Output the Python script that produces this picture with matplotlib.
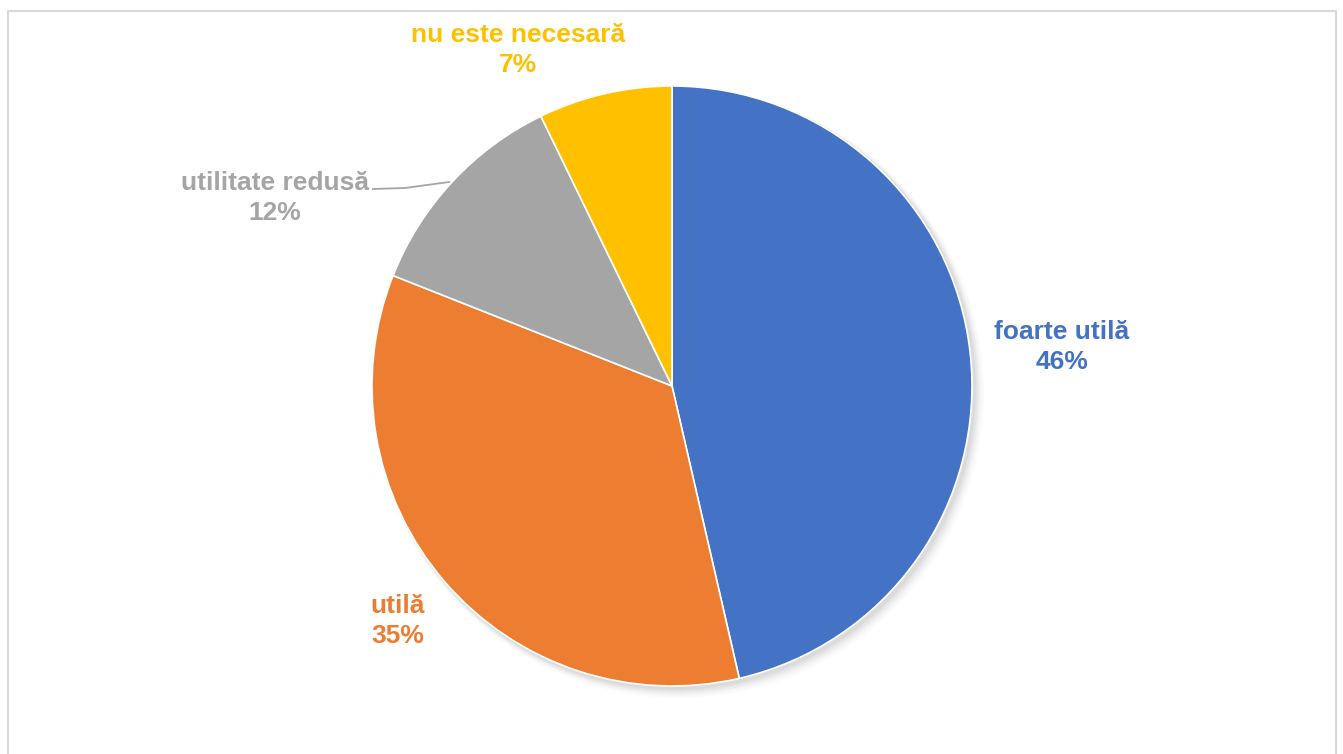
import matplotlib.pyplot as plt
from matplotlib.patches import Circle

plt.rcParams['font.family'] = ['Liberation Sans', 'DejaVu Sans']

categories = ['foarte utilă', 'utilă', 'utilitate redusă', 'nu este necesară']
values = [46.4, 34.6, 11.8, 7.2]
colors = ['#4472C4', '#ED7D31', '#A5A5A5', '#FFC000']

W, H = 1343, 754
cx, cy, r = 672, H - 386, 300

fig = plt.figure(figsize=(W / 100, H / 100), dpi=100)
ax = fig.add_axes([0, 0, 1, 1])

# outer frame
ax.plot([8, 8, 1336, 1336], [-5, H - 11, H - 11, -5], color='#d9d9d9', lw=1.5)

# soft shadow
for i, a in enumerate([0.04, 0.035, 0.03, 0.02, 0.015]):
    ax.add_patch(Circle((cx + 3 + i, cy - 3 - i), r + 1 + i, color='black', alpha=a, lw=0, zorder=1))

wedges, _ = ax.pie(values, colors=colors, startangle=90, counterclock=False,
                   center=(cx, cy), radius=r, frame=True,
                   wedgeprops={'edgecolor': 'white', 'linewidth': 1.2, 'zorder': 2})
ax.set_xlim(0, W)
ax.set_ylim(0, H)
ax.set_aspect('equal')
ax.axis('off')

label_pos = [(1062, H - 347), (398, H - 621), (275, H - 198), (518, H - 50)]
for cat, v, col, (x, y) in zip(categories, values, colors, label_pos):
    ax.text(x, y, f'{cat}\n{v:.0f}%', color=col, fontsize=19, fontweight='bold',
            ha='center', va='center', linespacing=1.32, zorder=5)

# leader line for "utilitate redusă"
ax.plot([373, 405, 449], [H - 189, H - 188, H - 182], color='#A5A5A5', lw=1.3, zorder=5)

fig.savefig('out.png', dpi=100)
